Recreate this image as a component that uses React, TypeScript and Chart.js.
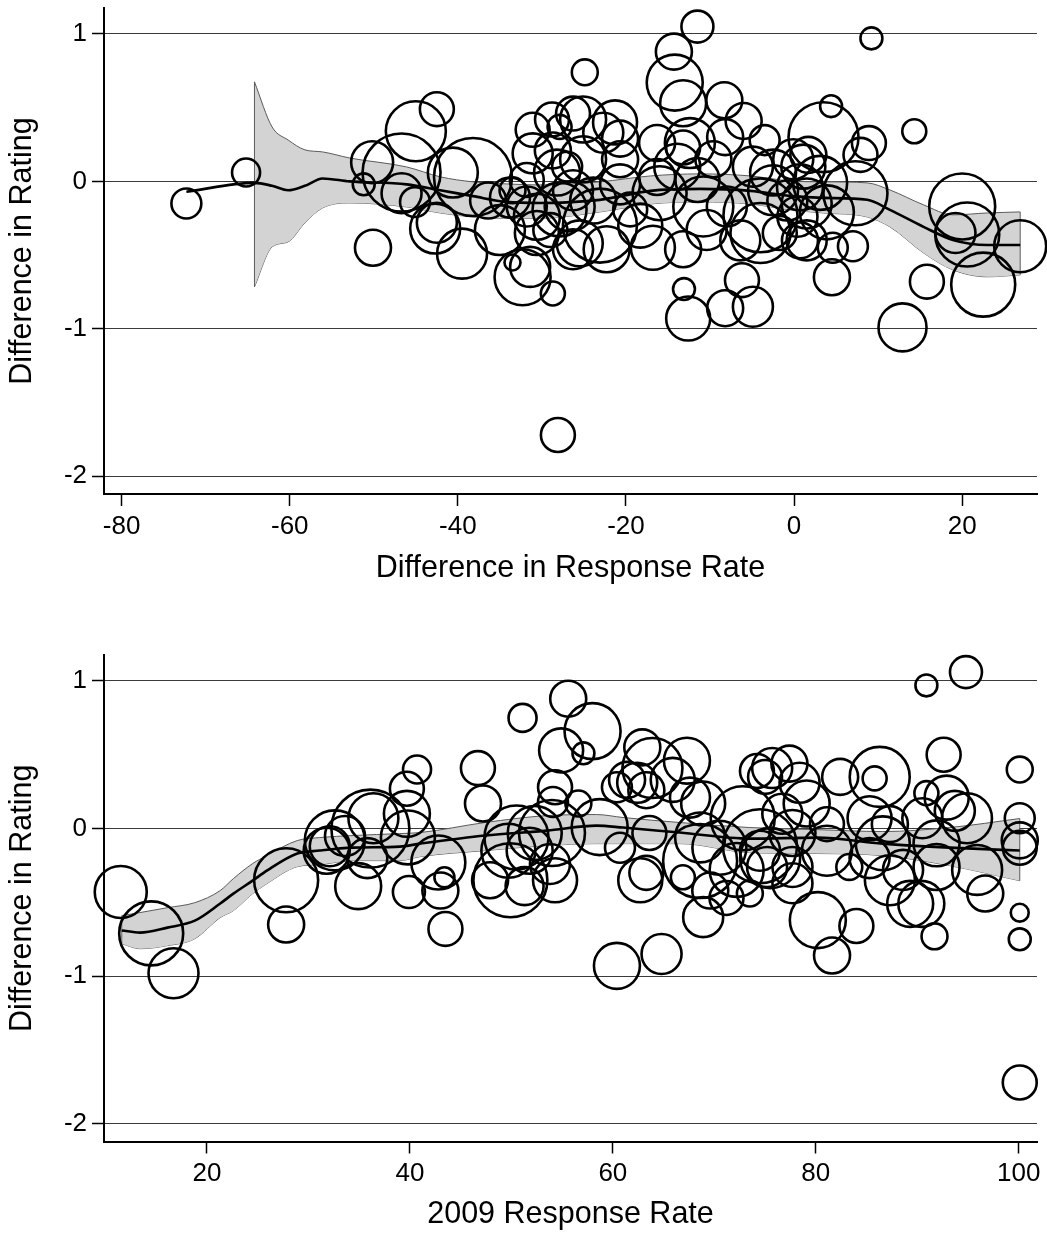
import React, { useEffect, useRef } from "react";
import { Chart, registerables } from "chart.js";

Chart.register(...registerables);

const FONT = "'Liberation Sans', Arial, Helvetica, sans-serif";

// ---------------- Top panel: Difference in Response Rate ----------------
const topDiffResponse = [
  -72.3, -65.2, -51.2, -50.1, -50.2, -45.0, -42.5, -46.7, -40.6, -38.2,
  -46.7, -45.1, -42.7, -42.5, -39.5, -36.4, -35.0, -33.5, -32.3, -31.4,
  -28.7, -33.5, -33.8, -31.8, -30.6, -29.0, -31.1, -28.8, -27.9, -31.1,
  -28.7, -26.3, -24.9, -27.0, -26.3, -27.9, -26.3, -11.5, -14.3, -14.2,
  -13.2, -8.3, -6.0, -16.3, -12.4, -13.2, -8.2, -25.1, -21.3, -20.7,
  -22.7, 3.5, -16.3, -13.9, -9.6, -4.9, -2.5, 1.1, -28.2, -25.1,
  -20.7, -31.8, -26.7, -23.9, -19.5, -16.0, -10.8, -8.0, -2.5, 1.5,
  -30.6, -25.5, -22.3, -16.8, -13.2, -10.4, -6.4, -4.0, 0.7, -13.1,
  -12.6, -8.2, -4.9, -6.2, 9.2, 14.3, 4.4, 8.9, 7.9, 1.7,
  -0.1, 3.1, 7.3, 0.7, 3.9, 0.4, 1.5, 4.6, 7.0, 4.5,
  15.8, 12.9, 20.0, 19.2, 20.6, 22.5, 26.9, -1.7, -0.8, -28.1,
  -18.3, -20.7, -11.5, -3.5, -23.1, -4.0,
];
const topDiffRating = [
  -0.15, 0.06, -0.02, -0.45, 0.13, 0.34, 0.49, 0.06, 0.06, 0.03,
  -0.08, -0.14, -0.32, -0.28, -0.49, -0.13, -0.33, -0.55, -0.65, -0.58,
  -0.76, -0.06, -0.11, -0.17, -0.24, -0.33, 0.35, 0.42, 0.37, 0.19,
  0.21, 0.46, 0.74, 0.10, -0.06, -0.19, -0.46, 1.05, 0.88, 0.67,
  0.53, 0.55, 0.41, 0.26, 0.26, 0.23, 0.30, 0.42, 0.40, 0.29,
  0.33, 0.30, 0.03, 0.10, 0.15, 0.10, 0.06, 0.10, 0.06, 0.15,
  0.15, 0.01, -0.17, -0.13, -0.19, -0.08, -0.17, -0.17, -0.06, -0.15,
  -0.35, -0.42, -0.46, -0.45, -0.46, -0.33, -0.40, -0.35, -0.40, -0.73,
  -0.93, -0.86, -0.85, -0.67, 0.97, 0.34, 0.51, 0.26, 0.18, 0.18,
  0.15, -0.01, -0.08, -0.04, -0.21, -0.24, -0.40, -0.45, -0.44, -0.65,
  -0.68, -0.99, -0.17, -0.35, -0.36, -0.70, -0.44, -0.35, -0.13, -1.72,
  -0.30, -0.02, 0.01, 0.28, -0.30, -0.23,
];
const topWeight = [
  56, 49, 30, 81, 110, 225, 72, 380, 156, 380,
  100, 56, 156, 100, 156, 81, 156, 16, 196, 100,
  36, 42, 100, 100, 132, 72, 72, 72, 36, 100,
  81, 72, 42, 56, 100, 182, 100, 64, 81, 196,
  132, 81, 81, 81, 156, 72, 81, 132, 121, 81,
  100, 306, 81, 132, 81, 100, 132, 121, 132, 132,
  81, 72, 156, 132, 72, 182, 225, 100, 156, 156,
  121, 132, 132, 121, 81, 100, 100, 225, 81, 30,
  121, 81, 100, 72, 30, 36, 30, 72, 72, 81,
  100, 182, 256, 132, 182, 100, 100, 56, 56, 81,
  72, 144, 272, 100, 256, 256, 169, 72, 100, 72,
  121, 100, 121, 56, 342, 342,
];
const topFitX = [-72.3, -64.2, -62.1, -60.2, -58.2, -56.1, -52.9, -46.1, -42.1, -38.2, -34.2, -30.2, -23.1, -17.1, -11.2, -5.2, -0.5, 3.5, 8.7, 11.4, 15.4, 18.9, 23.0, 26.9];
const topFit = [-0.07, -0.01, -0.03, -0.06, -0.03, 0.02, 0.0, -0.02, -0.06, -0.1, -0.139, -0.146, -0.125, -0.064, -0.051, -0.064, -0.098, -0.112, -0.125, -0.193, -0.308, -0.397, -0.431, -0.431];
const topBandX = [-64.2, -62.1, -60.2, -58.2, -56.1, -52.9, -46.1, -42.1, -38.2, -34.2, -30.2, -23.1, -17.1, -11.2, -5.2, -0.5, 3.5, 8.7, 11.4, 15.4, 18.9, 23.0, 26.9];
const topBandHi = [0.675, 0.369, 0.281, 0.214, 0.2, 0.159, 0.098, 0.031, -0.003, -0.017, -0.024, -0.003, 0.037, 0.051, 0.037, 0.003, -0.003, -0.01, -0.058, -0.159, -0.227, -0.214, -0.207];
const topBandLo = [-0.715, -0.444, -0.41, -0.281, -0.18, -0.146, -0.173, -0.214, -0.241, -0.25, -0.25, -0.207, -0.153, -0.139, -0.153, -0.193, -0.214, -0.241, -0.308, -0.485, -0.6, -0.647, -0.634];
const topXTicks = [-80, -60, -40, -20, 0, 20];

// ---------------- Bottom panel: 2009 Response Rate ----------------
const bottomRate2009 = [
  11.5, 14.5, 16.7, 27.8, 27.8, 31.8, 32.6, 33.6, 34.9, 36.1,
  35.8, 39.7, 40.7, 39.7, 39.8, 42.8, 39.9, 43.0, 43.4, 43.5,
  46.7, 47.2, 47.9, 51.1, 55.6, 58.0, 57.1, 54.9, 54.3, 54.1,
  56.6, 50.5, 52.3, 54.0, 49.7, 51.8, 53.8, 54.3, 51.3, 49.9,
  58.7, 60.7, 62.7, 63.3, 63.6, 60.4, 62.9, 63.9, 62.4, 63.3,
  61.4, 67.3, 65.9, 67.6, 68.9, 68.6, 68.6, 70.5, 72.8, 72.2,
  69.6, 71.2, 68.9, 66.9, 60.4, 64.8, 74.2, 94.8, 90.9, 92.6,
  100.1, 100.1, 100.1, 100.1, 100.1, 100.1, 100.1, 91.7, 96.7, 95.9,
  94.9, 93.7, 92.9, 90.9, 90.5, 91.9, 91.9, 90.4, 89.3, 87.3,
  88.6, 86.3, 85.8, 82.4, 85.3, 87.3, 86.6, 85.3, 83.3, 80.2,
  84.0, 81.6, 77.7, 81.1, 75.7, 77.4, 75.0, 78.4, 79.1, 76.7,
  81.1, 77.7, 74.5, 75.2, 73.5, 77.7, 75.5, 36.4, 32.1, 74.5,
];
const bottomDiffRating = [
  -0.43, -0.71, -0.98, -0.35, -0.65, -0.15, -0.08, -0.05, -0.39, 0.0,
  -0.2, 0.27, 0.4, 0.1, -0.06, -0.23, -0.43, -0.42, -0.33, -0.68,
  0.41, 0.17, -0.35, 0.75, 0.88, 0.66, 0.51, 0.53, 0.28, 0.18,
  0.17, -0.06, -0.03, -0.03, -0.15, -0.15, -0.24, -0.35, -0.39, -0.35,
  0.01, -0.13, -0.35, -0.3, -0.03, 0.28, 0.55, 0.41, 0.31, 0.26,
  0.33, 0.46, 0.33, 0.21, 0.17, -0.06, -0.22, -0.13, 0.07, -0.28,
  -0.42, -0.47, -0.6, -0.33, -0.93, -0.85, 0.39, 1.06, 0.97, 0.5,
  0.4, 0.07, -0.08, -0.13, -0.57, -0.75, -1.72, -0.73, -0.44, -0.28,
  0.07, 0.12, 0.21, 0.24, 0.07, -0.1, -0.26, -0.51, -0.51, -0.35,
  -0.28, 0.35, 0.34, 0.35, 0.07, 0.03, -0.1, -0.2, -0.26, -0.62,
  -0.66, -0.86, -0.37, -0.15, 0.41, 0.44, 0.35, 0.31, 0.17, 0.1,
  0.03, -0.03, -0.15, -0.26, -0.44, -0.26, -0.2, 0.07, -0.12, -0.12,
];
const bottomWeight = [
  169, 256, 156, 256, 81, 132, 225, 100, 132, 380,
  100, 72, 49, 132, 182, 182, 64, 81, 25, 72,
  72, 81, 81, 49, 81, 196, 30, 121, 72, 56,
  42, 256, 182, 272, 182, 132, 100, 121, 90, 342,
  196, 56, 121, 72, 72, 56, 81, 225, 100, 81,
  81, 132, 121, 100, 121, 156, 342, 182, 256, 182,
  81, 72, 100, 36, 132, 100, 72, 64, 30, 72,
  42, 56, 81, 72, 20, 30, 72, 42, 81, 156,
  156, 100, 121, 36, 100, 132, 132, 132, 132, 156,
  100, 225, 36, 81, 121, 81, 182, 100, 42, 196,
  72, 81, 100, 156, 100, 81, 72, 100, 132, 100,
  72, 132, 100, 100, 42, 100, 225, 156, 100, 342,
];
const bottomFitX = [11.6, 13.4, 16.1, 18.8, 21.3, 22.6, 24.5, 25.9, 28.9, 31.1, 34.4, 39.0, 41.0, 47.4, 53.5, 58.4, 61.0, 66.6, 73.5, 80.1, 86.6, 93.2, 100.1];
const bottomFit = [-0.69, -0.705, -0.671, -0.624, -0.508, -0.441, -0.353, -0.285, -0.169, -0.149, -0.129, -0.122, -0.102, -0.047, -0.014, 0.02, 0.007, -0.027, -0.068, -0.061, -0.102, -0.129, -0.149];
const bottomBandHi = [-0.59, -0.569, -0.536, -0.502, -0.42, -0.339, -0.237, -0.183, -0.081, -0.061, -0.047, -0.034, -0.027, 0.041, 0.088, 0.095, 0.075, 0.041, 0.007, -0.007, -0.02, 0.007, 0.068];
const bottomBandLo = [-0.78, -0.814, -0.793, -0.746, -0.603, -0.556, -0.441, -0.373, -0.258, -0.244, -0.217, -0.217, -0.19, -0.149, -0.115, -0.102, -0.102, -0.102, -0.163, -0.169, -0.183, -0.251, -0.353];
const bottomXTicks = [20, 40, 60, 80, 100];

const yTicks = [-2, -1, 0, 1];
const yTitle = "Difference in Rating";

type Spec = {
  x: number[]; y: number[]; w: number[];
  fitX: number[]; fitY: number[];
  bandX: number[]; bandHi: number[]; bandLo: number[];
  xMin: number; xMax: number; xTicks: number[]; xTitle: string;
  padTop: number; xAxisHeight: number; titlePadBottom: number;
};

const topSpec: Spec = {
  x: topDiffResponse, y: topDiffRating, w: topWeight,
  fitX: topFitX, fitY: topFit,
  bandX: topBandX, bandHi: topBandHi, bandLo: topBandLo,
  xMin: -82.1, xMax: 28.9, xTicks: topXTicks, xTitle: "Difference in Response Rate",
  padTop: 8, xAxisHeight: 123, titlePadBottom: 30,
};

const bottomSpec: Spec = {
  x: bottomRate2009, y: bottomDiffRating, w: bottomWeight,
  fitX: bottomFitX, fitY: bottomFit,
  bandX: bottomFitX, bandHi: bottomBandHi, bandLo: bottomBandLo,
  xMin: 9.85, xMax: 101.8, xTicks: bottomXTicks, xTitle: "2009 Response Rate",
  padTop: 38, xAxisHeight: 92.5, titlePadBottom: 1,
};

function buildConfig(s: Spec): any {
  const bubbles = s.x.map((x, i) => ({ x, y: s.y[i], r: 2 * Math.sqrt(s.w[i]) }));
  const fit = s.fitX.map((x, i) => ({ x, y: s.fitY[i] }));
  const hi = s.bandX.map((x, i) => ({ x, y: s.bandHi[i] }));
  const lo = s.bandX.map((x, i) => ({ x, y: s.bandLo[i] }));
  const n = s.bandX.length - 1;
  const caps = [
    { x: s.bandX[0], y: s.bandLo[0] },
    { x: s.bandX[0], y: s.bandHi[0] },
    { x: s.bandX[0], y: null },
    { x: s.bandX[n], y: s.bandLo[n] },
    { x: s.bandX[n], y: s.bandHi[n] },
  ];
  const tickFont = { family: FONT, size: 26 };
  const titleFont = { family: FONT, size: 30.5 };
  return {
    type: "bubble",
    data: {
      datasets: [
        {
          type: "line", data: hi, order: 5, fill: "+1",
          backgroundColor: "#d3d3d3", borderColor: "#5a5a5a", borderWidth: 1,
          pointRadius: 0, cubicInterpolationMode: "monotone", clip: false,
        },
        {
          type: "line", data: lo, order: 5, fill: false,
          borderColor: "#5a5a5a", borderWidth: 1,
          pointRadius: 0, cubicInterpolationMode: "monotone", clip: false,
        },
        {
          type: "line", data: caps, order: 4, fill: false,
          borderColor: "#5a5a5a", borderWidth: 1, pointRadius: 0, spanGaps: false, clip: false,
        },
        {
          type: "bubble", data: bubbles, order: 3,
          backgroundColor: "rgba(0,0,0,0)", borderColor: "#000", borderWidth: 2.6,
          hoverBorderWidth: 2.6, clip: false,
        },
        {
          type: "line", data: fit, order: 1, fill: false,
          borderColor: "#000", borderWidth: 2.6, pointRadius: 0,
          cubicInterpolationMode: "monotone", clip: false,
        },
      ],
    },
    options: {
      responsive: false,
      animation: false,
      devicePixelRatio: 1,
      events: [],
      layout: { autoPadding: false, padding: { top: s.padTop, right: 10, left: 0, bottom: 0 } },
      plugins: { legend: { display: false }, tooltip: { enabled: false } },
      scales: {
        x: {
          type: "linear", position: "bottom", min: s.xMin, max: s.xMax,
          afterBuildTicks: (sc: any) => { sc.ticks = s.xTicks.map((v) => ({ value: v })); },
          afterFit: (sc: any) => {
            sc.height = s.xAxisHeight;
            sc.paddingLeft = 0; sc.paddingRight = 0; sc.paddingTop = 0; sc.paddingBottom = 0;
          },
          ticks: {
            font: tickFont, color: "#000", padding: 5, autoSkip: false,
            maxRotation: 0, minRotation: 0, callback: (v: any) => String(v),
          },
          grid: {
            drawOnChartArea: false, drawTicks: true, tickLength: 12,
            tickColor: "#000", tickWidth: 1.5, color: "#000",
          },
          border: { display: true, color: "#000", width: 2 },
          title: {
            display: true, text: s.xTitle, font: titleFont, color: "#000",
            padding: { top: 0, bottom: s.titlePadBottom },
          },
        },
        y: {
          type: "linear", position: "left", min: -2.12, max: 1.176,
          afterBuildTicks: (sc: any) => { sc.ticks = yTicks.map((v) => ({ value: v })); },
          afterFit: (sc: any) => {
            sc.width = 104;
            sc.paddingLeft = 0; sc.paddingRight = 0; sc.paddingTop = 0; sc.paddingBottom = 0;
          },
          ticks: { font: tickFont, color: "#000", padding: 5, callback: (v: any) => String(v) },
          grid: {
            drawOnChartArea: true, drawTicks: true, tickLength: 12,
            color: "#3a3a3a", lineWidth: 1, tickColor: "#000", tickWidth: 1.5,
          },
          border: { display: true, color: "#000", width: 2 },
          title: {
            display: true, text: yTitle, font: titleFont, color: "#000",
            padding: { top: 4, bottom: 0 },
          },
        },
      },
    },
  };
}

function Panel({ spec, top }: { spec: Spec; top: number }) {
  const ref = useRef<HTMLCanvasElement>(null);
  useEffect(() => {
    const chart = new Chart(ref.current as HTMLCanvasElement, buildConfig(spec));
    return () => chart.destroy();
  }, [spec]);
  return (
    <canvas
      ref={ref}
      width={1047}
      height={617}
      style={{ position: "absolute", left: 0, top, width: 1047, height: 617, display: "block" }}
    />
  );
}

export default function App() {
  return (
    <div style={{ position: "absolute", left: 0, top: 0, width: 1047, height: 1234, overflow: "hidden", background: "#fff" }}>
      <Panel spec={topSpec} top={0} />
      <Panel spec={bottomSpec} top={617} />
    </div>
  );
}
